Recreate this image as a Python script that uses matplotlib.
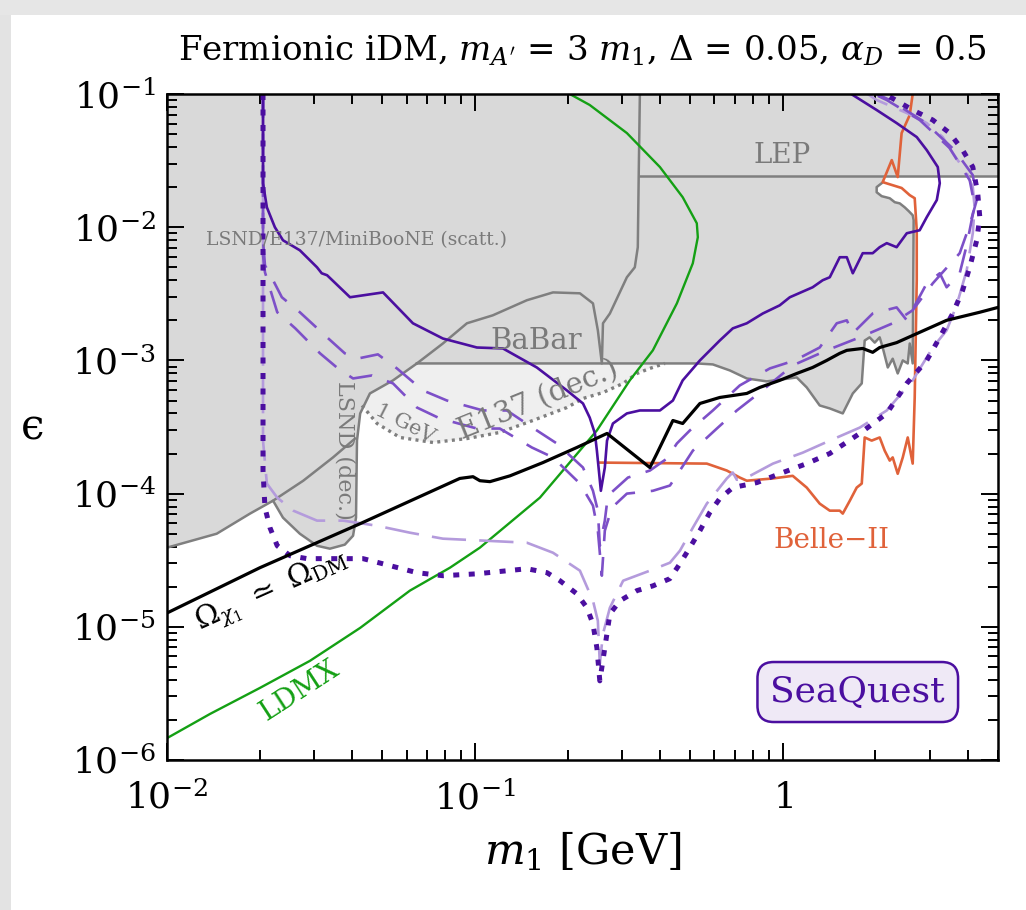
import numpy as np
import matplotlib
matplotlib.use("Agg")
import matplotlib.pyplot as plt
from matplotlib.patches import Rectangle
from matplotlib.ticker import FixedLocator, FixedFormatter, LogLocator, NullFormatter

plt.rcParams['font.family'] = ['DejaVu Serif']
plt.rcParams['mathtext.fontset'] = 'dejavuserif'

# ---------------- data (m1 [GeV], epsilon) ----------------
x_ticks = [1e-2, 1e-1, 1.0]
x_tick_labels = [r'$10^{-2}$', r'$10^{-1}$', r'$1$']
y_ticks = [1e-6, 1e-5, 1e-4, 1e-3, 1e-2, 1e-1]
y_tick_labels = [r'$10^{-6}$', r'$10^{-5}$', r'$10^{-4}$', r'$10^{-3}$', r'$10^{-2}$', r'$10^{-1}$']

# LSND (dec.) tongue + lower edge of the scattering region
lsnd_m = [0.01, 0.0145, 0.0186, 0.0221, 0.0238, 0.0270, 0.0307, 0.0338, 0.0378, 0.0402,
          0.0411, 0.0414, 0.0424, 0.0456, 0.0542, 0.0648]
lsnd_eps = [3.93e-5, 5.0e-5, 7.08e-5, 8.85e-5, 6.60e-5, 5.0e-5, 4.06e-5, 3.86e-5, 4.14e-5, 4.83e-5,
            6.60e-5, 2.50e-4, 4.0e-4, 5.65e-4, 7.08e-4, 9.49e-4]
# scattering boundary inside LSND tongue
scatt_in_m = [0.0221, 0.0277, 0.0346, 0.0408]
scatt_in_eps = [8.85e-5, 1.25e-4, 1.87e-4, 2.59e-4]
# BaBar top + scattering vertical edge
babar_m = [0.0648, 0.0787, 0.0942, 0.1143, 0.1475, 0.1793, 0.2193, 0.2418, 0.2508, 0.2584,
           0.2606, 0.2744, 0.3116, 0.3306, 0.3381, 0.3405, 0.3434]
babar_eps = [9.49e-4, 1.34e-3, 1.90e-3, 2.18e-3, 2.83e-3, 3.24e-3, 3.19e-3, 2.68e-3, 1.68e-3, 9.49e-4,
             1.90e-3, 2.25e-3, 4.21e-3, 5.0e-3, 7.08e-3, 2.55e-2, 0.1]
# BaBar lower edge (right part) incl. notch
babar_low_m = [0.0648, 0.5257, 0.5927, 0.673, 0.764, 0.887, 1.11, 1.196, 1.318, 1.421, 1.566,
               1.688, 1.805, 1.845, 1.914, 1.989, 2.064, 2.111, 2.193, 2.275, 2.362, 2.453,
               2.546, 2.584, 2.642, 2.661, 2.642, 2.565, 2.489, 2.398, 2.311, 2.225, 2.095,
               2.018, 2.018, 2.095]
babar_low_eps = [9.49e-4, 9.49e-4, 9.33e-4, 8.41e-4, 7.32e-4, 6.96e-4, 7.45e-4, 6.27e-4, 4.59e-4,
                 4.36e-4, 4.0e-4, 5.65e-4, 6.72e-4, 1.41e-3, 1.49e-3, 1.36e-3, 1.49e-3, 1.25e-3,
                 8.85e-4, 1.03e-3, 7.98e-4, 1.0e-3, 9.49e-4, 1.34e-3, 9.49e-4, 1.13e-2, 1.23e-2,
                 1.32e-2, 1.41e-2, 1.51e-2, 1.54e-2, 1.65e-2, 1.71e-2, 1.83e-2, 2.0e-2, 2.14e-2]
# LEP
lep_m = [0.3434, 5.0]
lep_eps = [0.0242, 0.0242]
# E137 (dec.) with 1 GeV threshold (dotted lower edge)
e137_m = [0.0430, 0.0481, 0.0571, 0.0731, 0.0942, 0.1205, 0.1542, 0.1990, 0.2244, 0.2606,
          0.303, 0.336, 0.3701, 0.414]
e137_eps = [4.59e-4, 3.36e-4, 2.64e-4, 2.42e-4, 2.59e-4, 2.88e-4, 3.54e-4, 4.43e-4, 5.18e-4,
            5.74e-4, 6.72e-4, 7.98e-4, 8.71e-4, 9.49e-4]

# relic target
relic_m = [0.01, 0.02004, 0.0424, 0.0893, 0.0986, 0.1038, 0.1119, 0.1300, 0.1663, 0.2143, 0.2686,
           0.3701, 0.390, 0.4396, 0.473, 0.538, 0.624, 0.764, 0.842, 0.977, 1.11, 1.25, 1.389,
           1.531, 1.614, 1.818, 1.959, 2.064, 2.343, 2.642, 3.405, 4.364, 5.0]
relic_eps = [1.27e-5, 2.78e-5, 5.95e-5, 1.30e-4, 1.34e-4, 1.25e-4, 1.23e-4, 1.36e-4, 1.71e-4,
             2.22e-4, 2.83e-4, 1.57e-4, 2.00e-4, 3.54e-4, 3.36e-4, 4.75e-4, 5.27e-4, 5.65e-4,
             6.27e-4, 7.08e-4, 7.98e-4, 8.85e-4, 1.0e-3, 1.13e-3, 1.19e-3, 1.23e-3, 1.15e-3,
             1.25e-3, 1.36e-3, 1.54e-3, 2.0e-3, 2.30e-3, 2.50e-3]

# LDMX
ldmx_m = [0.01, 0.0138, 0.02004, 0.0291, 0.0424, 0.0615, 0.0830, 0.1038, 0.1626, 0.2490, 0.3184,
          0.3784, 0.4529, 0.5102, 0.5297, 0.5257, 0.473, 0.3989, 0.3116, 0.236, 0.2033]
ldmx_eps = [1.46e-6, 2.22e-6, 3.48e-6, 5.55e-6, 9.82e-6, 1.87e-5, 2.78e-5, 3.93e-5, 9.33e-5,
            2.98e-4, 7.08e-4, 1.19e-3, 2.68e-3, 5.36e-3, 8.41e-3, 1.07e-2, 1.68e-2, 2.83e-2,
            5.09e-2, 0.0827, 0.1]

# Belle-II
belle_m = [0.2545, 0.5665, 0.658, 0.725, 0.764, 0.929, 1.077, 1.196, 1.318, 1.421, 1.531, 1.566,
           1.651, 1.738, 1.805, 1.845, 1.944, 2.064, 2.143, 2.225, 2.275, 2.362, 2.453, 2.546,
           2.642, 2.682, 2.723, 2.723, 2.682, 2.584, 2.432, 2.111, 2.259, 2.362, 2.432, 2.584, 2.642]
belle_eps = [1.71e-4, 1.68e-4, 1.49e-4, 1.32e-4, 1.25e-4, 1.30e-4, 1.36e-4, 1.11e-4, 8.41e-5,
             7.45e-5, 7.45e-5, 7.08e-5, 8.85e-5, 1.11e-4, 1.19e-4, 2.64e-4, 2.50e-4, 2.64e-4,
             2.10e-4, 1.77e-4, 1.87e-4, 1.41e-4, 1.87e-4, 2.64e-4, 1.68e-4, 5.27e-4, 4.0e-3,
             9.49e-3, 1.65e-2, 1.74e-2, 1.97e-2, 2.18e-2, 3.19e-2, 2.38e-2, 5.09e-2, 0.0695, 0.1]

# SeaQuest curves
sq_solid_m = [0.0205, 0.0205, 0.0211, 0.0224, 0.0238, 0.0270, 0.0307, 0.0318, 0.0331, 0.0393,
              0.0503, 0.0629, 0.0787, 0.1015, 0.1233, 0.1589, 0.1990, 0.2244, 0.2360, 0.2453,
              0.2490, 0.2527, 0.2565, 0.2642, 0.2686, 0.2807, 0.3116, 0.3434, 0.3989, 0.4396,
              0.473, 0.538, 0.624, 0.688, 0.764, 0.861, 0.977, 1.054, 1.25, 1.348, 1.421, 1.531,
              1.614, 1.688, 1.818, 1.959, 2.064, 2.176, 2.343, 2.528, 2.784, 2.935, 3.164,
              3.235, 3.187, 2.935, 2.723, 2.343, 2.018, 1.688, 1.566]
sq_solid_eps = [0.1, 0.0214, 0.0141, 0.0100, 7.98e-3, 6.71e-3, 5.0e-3, 4.51e-3, 4.36e-3, 2.98e-3,
                3.24e-3, 1.90e-3, 1.46e-3, 1.25e-3, 1.23e-3, 8.85e-4, 5.95e-4, 4.75e-4, 3.72e-4,
                2.83e-4, 2.10e-4, 1.49e-4, 1.05e-4, 1.57e-4, 2.50e-4, 3.36e-4, 4.0e-4, 4.21e-4,
                4.21e-4, 5.0e-4, 7.08e-4, 1.0e-3, 1.41e-3, 1.74e-3, 1.90e-3, 2.25e-3, 2.59e-3,
                2.98e-3, 3.54e-3, 4.0e-3, 4.21e-3, 5.95e-3, 5.95e-3, 4.51e-3, 6.38e-3, 6.38e-3,
                7.08e-3, 7.59e-3, 7.08e-3, 9.01e-3, 9.49e-3, 1.19e-2, 1.60e-2, 2.14e-2, 2.83e-2,
                3.79e-2, 4.75e-2, 6.05e-2, 7.58e-2, 0.0983, 0.111]

sq_dot_m = [0.0205, 0.0205, 0.0208, 0.0216, 0.0228, 0.0251, 0.0285, 0.0357, 0.0433, 0.0530,
            0.0648, 0.0787, 0.1015, 0.1475, 0.1714, 0.1888, 0.2143, 0.2312, 0.2418, 0.2490,
            0.2545, 0.2642, 0.2744, 0.296, 0.336, 0.3784, 0.430, 0.4634, 0.499, 0.538, 0.579,
            0.624, 0.688, 0.824, 0.977, 1.196, 1.421, 1.778, 2.176, 2.528, 2.935, 3.235, 3.565,
            3.839, 4.047, 4.266, 4.364, 4.297, 4.141, 3.839, 3.483, 3.070, 2.642, 2.176, 1.989]
sq_dot_eps = [0.1, 1.49e-4, 7.85e-5, 5.54e-5, 4.06e-5, 3.42e-5, 3.25e-5, 3.25e-5, 3.25e-5,
              2.88e-5, 2.55e-5, 2.42e-5, 2.50e-5, 2.73e-5, 2.55e-5, 2.22e-5, 1.77e-5, 1.39e-5,
              1.05e-5, 6.95e-6, 3.93e-6, 6.95e-6, 1.25e-5, 1.57e-5, 1.87e-5, 2.03e-5, 2.30e-5,
              2.98e-5, 3.93e-5, 5.27e-5, 7.20e-5, 9.17e-5, 1.11e-4, 1.21e-4, 1.41e-4, 1.68e-4,
              2.0e-4, 2.83e-4, 4.0e-4, 6.72e-4, 1.0e-3, 1.49e-3, 2.25e-3, 3.36e-3, 5.0e-3,
              7.98e-3, 1.19e-2, 1.80e-2, 2.83e-2, 3.79e-2, 5.09e-2, 6.38e-2, 7.58e-2, 0.0983, 0.107]

sq_light_m = [0.0205, 0.0205, 0.0211, 0.0228, 0.0257, 0.0307, 0.0373, 0.0481, 0.0615, 0.0787,
              0.1475, 0.1793, 0.2193, 0.2418, 0.2508, 0.2545, 0.2606, 0.2744, 0.303, 0.3701,
              0.430, 0.4634, 0.5102, 0.5665, 0.658, 0.688, 0.709, 0.764, 0.929, 1.161, 1.421,
              1.778, 2.176, 2.642, 3.070, 3.405, 3.669, 3.957, 4.141, 4.198, 4.141, 3.957,
              3.565, 3.308, 2.935, 2.528, 2.018, 1.845]
sq_light_eps = [0.1, 2.50e-4, 1.19e-4, 9.33e-5, 7.45e-5, 6.27e-5, 6.27e-5, 5.74e-5, 5.09e-5,
                4.59e-5, 4.28e-5, 3.60e-5, 2.64e-5, 1.57e-5, 1.11e-5, 5.27e-6, 8.86e-6, 1.39e-5,
                2.22e-5, 2.64e-5, 3.03e-5, 3.73e-5, 5.54e-5, 8.41e-5, 1.30e-4, 1.44e-4, 1.27e-4,
                1.32e-4, 1.68e-4, 2.03e-4, 2.50e-4, 3.13e-4, 4.21e-4, 7.08e-4, 1.25e-3, 1.68e-3,
                2.59e-3, 4.75e-3, 9.01e-3, 1.41e-2, 2.0e-2, 2.55e-2, 3.60e-2, 4.75e-2, 6.05e-2,
                7.20e-2, 0.0901, 0.1035]

sq_midA_m = [0.0205, 0.0205, 0.0208, 0.0221, 0.0236, 0.0270, 0.0331, 0.0378, 0.0414, 0.0484,
             0.0558, 0.0678, 0.0811, 0.1062, 0.1270, 0.1589, 0.1845, 0.2244, 0.2418, 0.2508,
             0.2545, 0.2642, 0.2704, 0.3141, 0.3701, 0.4201, 0.4529, 0.499, 0.5927, 0.725,
             0.908, 1.094, 1.318, 1.497, 1.614, 1.688, 1.959, 2.343, 2.528, 2.935, 3.235,
             3.405, 3.755, 3.957, 4.198, 4.047, 3.483, 2.784, 2.176, 1.914]
sq_midA_eps = [0.1, 7.98e-3, 5.18e-3, 4.0e-3, 2.98e-3, 2.30e-3, 1.49e-3, 1.13e-3, 1.03e-3,
               1.11e-3, 8.71e-4, 5.95e-4, 5.0e-4, 4.21e-4, 4.21e-4, 2.98e-4, 2.38e-4, 1.57e-4,
               1.05e-4, 7.45e-5, 4.06e-5, 6.27e-5, 9.66e-5, 1.32e-4, 1.49e-4, 1.83e-4, 2.38e-4,
               2.98e-4, 4.21e-4, 6.49e-4, 8.71e-4, 1.0e-3, 1.25e-3, 1.90e-3, 2.0e-3, 1.60e-3,
               2.25e-3, 2.50e-3, 2.0e-3, 3.79e-3, 4.51e-3, 3.54e-3, 4.51e-3, 7.33e-3, 1.46e-2,
               2.25e-2, 3.93e-2, 6.38e-2, 0.0901, 0.1035]

sq_midB_m = [0.0205, 0.0205, 0.0208, 0.0228, 0.0261, 0.0314, 0.0359, 0.0402, 0.0463, 0.0542,
             0.0648, 0.0769, 0.1015, 0.1205, 0.1531, 0.1793, 0.2193, 0.2418, 0.2508, 0.2584,
             0.2642, 0.2786, 0.3116, 0.3784, 0.430, 0.456, 0.5102, 0.6106, 0.709, 0.842, 1.077,
             1.389, 1.778, 2.275, 2.642, 3.070, 3.755, 4.047, 4.266, 4.141, 3.614, 2.891,
             2.225, 1.989]
sq_midB_eps = [0.1, 6.15e-3, 4.59e-3, 2.30e-3, 1.74e-3, 1.13e-3, 8.71e-4, 7.32e-4, 7.71e-4,
               6.72e-4, 4.43e-4, 3.67e-4, 3.08e-4, 3.08e-4, 2.22e-4, 1.87e-4, 1.19e-4, 8.13e-5,
               5.27e-5, 2.42e-5, 5.27e-5, 7.85e-5, 1.0e-4, 1.05e-4, 1.15e-4, 1.41e-4, 2.10e-4,
               3.08e-4, 4.21e-4, 5.74e-4, 9.17e-4, 1.19e-3, 1.49e-3, 1.90e-3, 2.38e-3, 3.79e-3,
               6.38e-3, 1.04e-2, 1.60e-2, 2.46e-2, 3.79e-2, 0.0615, 0.0901, 0.1017]

# ---------------- style ----------------
GRAY_FILL = '#d9d9d9'
LIGHT_FILL = '#efefef'
GRAY_LINE = '#7f7f7f'
GRAY_TEXT = '#7a7a7a'
DARK_P = '#4b0fa0'
MID_P = '#7d50c8'
LIGHT_P = '#b49bdc'
GREEN = '#14a014'
ORANGE = '#e0623a'

fig = plt.figure(figsize=(10.26, 9.10), dpi=100)
# subtle frame shading as in the reference
fig.add_artist(Rectangle((0, 0), 0.011, 0.985, transform=fig.transFigure,
                         facecolor='#e3e3e3', edgecolor='none', zorder=0))
fig.add_artist(Rectangle((0, 0.984), 1, 0.016, transform=fig.transFigure,
                         facecolor='#e6e6e6', edgecolor='none', zorder=0))

ax = fig.add_axes([0.1628, 0.1648, 0.8099, 0.7319])
ax.set_xscale('log')
ax.set_yscale('log')
ax.set_xlim(0.01, 5.0)
ax.set_ylim(1e-6, 0.1)

# light E137 (dec.) region
e137_poly_m = list(e137_m) + [e137_m[-1], 0.040]
e137_poly_eps = list(e137_eps) + [babar_low_eps[0], babar_low_eps[0]]
ax.fill(e137_poly_m, e137_poly_eps, color=LIGHT_FILL, lw=0, zorder=1)

# dark excluded region polygon
poly_m = (list(babar_low_m) + [belle_m[31] * 1.03, lep_m[1], 5.0, 0.01] + list(lsnd_m))
poly_eps = (list(babar_low_eps) + [lep_eps[0], lep_eps[1], 0.1, 0.1] + list(lsnd_eps))
ax.fill(poly_m, poly_eps, color=GRAY_FILL, lw=0, zorder=1.1)

lw_g = 1.8
ax.plot(lsnd_m, lsnd_eps, color=GRAY_LINE, lw=lw_g, zorder=2)
ax.plot(scatt_in_m, scatt_in_eps, color=GRAY_LINE, lw=lw_g, zorder=2)
ax.plot(babar_m, babar_eps, color=GRAY_LINE, lw=lw_g, zorder=2)
ax.plot(babar_low_m, babar_low_eps, color=GRAY_LINE, lw=lw_g, zorder=2)
ax.plot(lep_m, lep_eps, color=GRAY_LINE, lw=lw_g, zorder=2)
ax.plot(e137_m, e137_eps, color=GRAY_LINE, lw=2.4, linestyle=(0, (0.9, 1.3)), zorder=2)

# other experiments
ax.plot(ldmx_m, ldmx_eps, color=GREEN, lw=1.7, zorder=3)
ax.plot(belle_m, belle_eps, color=ORANGE, lw=1.9, zorder=3)
ax.plot(relic_m, relic_eps, color='black', lw=2.3, zorder=4)

# SeaQuest
ax.plot(sq_light_m, sq_light_eps, color=LIGHT_P, lw=1.9, linestyle=(0, (13, 5)), zorder=3.5)
ax.plot(sq_midB_m, sq_midB_eps, color=MID_P, lw=1.9, linestyle=(0, (9, 6)), zorder=3.6)
ax.plot(sq_midA_m, sq_midA_eps, color=MID_P, lw=1.9, linestyle=(3, (9, 6)), zorder=3.6)
ax.plot(sq_dot_m, sq_dot_eps, color=DARK_P, lw=3.6, linestyle=(0, (1.2, 1.9)), zorder=3.7)
ax.plot(sq_solid_m, sq_solid_eps, color=DARK_P, lw=1.9, zorder=3.8)

# labels
ax.text(0.993, 0.0348, 'LEP', color=GRAY_TEXT, fontsize=20, ha='center', va='center', zorder=6)
ax.text(0.0414, 7.98e-3, 'LSND/E137/MiniBooNE (scatt.)', color=GRAY_TEXT, fontsize=13.5,
        ha='center', va='center', zorder=6)
ax.text(0.1578, 1.41e-3, 'BaBar', color=GRAY_TEXT, fontsize=21, ha='center', va='center', zorder=6)
ax.text(0.1604, 5.0e-4, 'E137 (dec.)', color=GRAY_TEXT, fontsize=21, ha='center', va='center',
        rotation=22, zorder=6)
ax.text(0.0593, 3.36e-4, '1 GeV', color=GRAY_TEXT, fontsize=15, ha='center', va='center',
        rotation=-27, zorder=6)
ax.text(0.0378, 2.10e-4, 'LSND (dec.)', color=GRAY_TEXT, fontsize=16, ha='center', va='center',
        rotation=-90, zorder=6)
ax.text(1.442, 4.43e-5, 'Belle\u2212II', color=ORANGE, fontsize=20, ha='center', va='center', zorder=6)
ax.text(0.0270, 3.30e-6, 'LDMX', color=GREEN, fontsize=20, ha='center', va='center',
        rotation=33, zorder=6)
ax.text(0.0219, 1.87e-5, r'$\Omega_{\chi_1}\ \simeq\ \Omega_{\rm DM}$', color='black', fontsize=21,
        ha='center', va='center', rotation=24, zorder=6)
ax.text(1.752, 3.24e-6, 'SeaQuest', color=DARK_P, fontsize=26, ha='center', va='center', zorder=7,
        bbox=dict(boxstyle='round,pad=0.36,rounding_size=0.45', facecolor='#efe9f6',
                  edgecolor=DARK_P, linewidth=1.8))

# axes formatting
ax.xaxis.set_major_locator(FixedLocator(x_ticks))
ax.xaxis.set_major_formatter(FixedFormatter(x_tick_labels))
ax.yaxis.set_major_locator(FixedLocator(y_ticks))
ax.yaxis.set_major_formatter(FixedFormatter(y_tick_labels))
ax.xaxis.set_minor_locator(LogLocator(base=10, subs=np.arange(2, 10), numticks=20))
ax.yaxis.set_minor_locator(LogLocator(base=10, subs=np.arange(2, 10), numticks=20))
ax.xaxis.set_minor_formatter(NullFormatter())
ax.yaxis.set_minor_formatter(NullFormatter())
ax.tick_params(which='both', direction='in', top=True, right=True, width=1.4, zorder=8)
ax.tick_params(which='major', length=12, labelsize=26)
ax.tick_params(axis='x', which='major', pad=15)
ax.tick_params(axis='y', which='major', pad=8)
ax.tick_params(which='minor', length=7)
for s in ax.spines.values():
    s.set_linewidth(1.8)
    s.set_zorder(8)

ax.set_xlabel(r'$m_1$ [GeV]', fontsize=31, labelpad=10)
ax.set_ylabel('\u03f5', fontsize=30, rotation=0, labelpad=28, va='center')
ax.set_title(r"Fermionic iDM, $m_{A'}$ = 3 $m_1$, $\Delta$ = 0.05, $\alpha_D$ = 0.5",
             fontsize=24.5, pad=24)

fig.savefig('out.png', dpi=100)
